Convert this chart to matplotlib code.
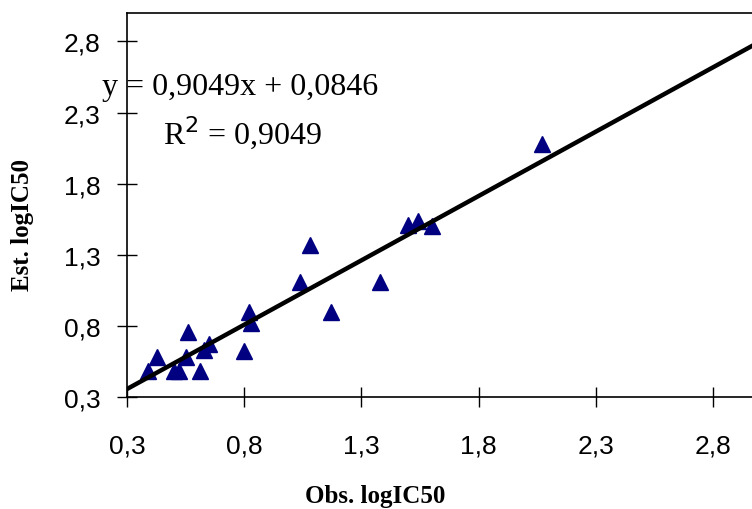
import matplotlib
matplotlib.use("Agg")
import matplotlib.pyplot as plt
import numpy as np

obs = [0.39, 0.43, 0.50, 0.52, 0.55, 0.56, 0.61, 0.63, 0.65, 0.80, 0.82, 0.83,
       1.04, 1.08, 1.17, 1.38, 1.50, 1.54, 1.60, 2.07]
est = [0.48, 0.58, 0.48, 0.48, 0.58, 0.76, 0.48, 0.63, 0.67, 0.62, 0.90, 0.82,
       1.11, 1.37, 0.90, 1.11, 1.51, 1.54, 1.50, 2.08]
ticks = [0.3, 0.8, 1.3, 1.8, 2.3, 2.8]
tick_labels = ["0,3", "0,8", "1,3", "1,8", "2,3", "2,8"]
slope, intercept = 0.9049, 0.0846

W, H = 752, 510
fig = plt.figure(figsize=(W / 100, H / 100), dpi=100)
ax = fig.add_axes([127 / W, 112 / H, 633 / W, 384 / H])

ax.plot(obs, est, linestyle="none", marker="^", ms=11, color="#000080")
xs = np.array([0.3, 3.0])
ax.plot(xs, slope * xs + intercept, color="black", lw=3.2, solid_capstyle="butt")

ax.set_xlim(0.3, 3.0)
ax.set_ylim(0.3, 3.0)
ax.set_xticks(ticks)
ax.set_yticks(ticks)
ax.set_xticklabels(tick_labels, family="Liberation Sans", fontsize=19)
ax.set_yticklabels(tick_labels, family="Liberation Sans", fontsize=19)
ax.tick_params(direction="inout", length=14, width=1, pad=12)
ax.tick_params(axis="x", pad=19)
for s in ax.spines.values():
    s.set_linewidth(1.2)
ax.spines["right"].set_visible(False)

fig.text(375 / W, 1 - 497 / H, "Obs. logIC50", family="Liberation Serif",
         fontweight="bold", fontsize=18, ha="center", va="center")
fig.text(23 / W, 1 - 225 / H, "Est. logIC50", family="Liberation Serif",
         fontweight="bold", fontsize=18, ha="center", va="center", rotation=90)

fig.text(102 / W, 1 - 88 / H, "y = 0,9049x + 0,0846", family="Liberation Serif",
         fontsize=23, va="center", ha="left")
fig.text(163 / W, 1 - 133 / H, "R$^2$ = 0,9049", family="Liberation Serif",
         fontsize=23, va="center", ha="left")

fig.savefig("out.png", dpi=100)
